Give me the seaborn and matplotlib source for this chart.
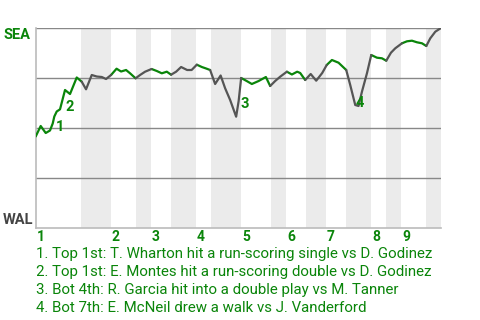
import matplotlib
matplotlib.use("Agg")
import matplotlib.pyplot as plt
import matplotlib.transforms as mtransforms
import seaborn as sns
import pandas as pd
import numpy as np

# ---- data ----
# game progress (plate-appearance units) and SEA win probability
progress = [0, 1.0, 2.0, 2.86, 3.4, 3.72, 4.2, 4.86, 5.86, 6.86, 8.2, 9.2, 10.06, 11.2,
            12.2, 13.2, 14.06, 15.06, 16.16, 17.06, 18.06, 18.86, 19.96, 20.86, 21.86,
            23.16, 24.2, 25.2, 26.2, 27.06, 28.06, 29.06, 30.26, 31.16, 32.2, 33.2, 34.06,
            34.86, 35.86, 36.96, 37.86, 38.86, 40.06, 40.56, 41.06, 42.16, 43.2, 44.56,
            46.0, 46.86, 47.86, 48.86, 50.2, 51.2, 52.26, 52.86, 53.86, 54.96, 56.06,
            57.26, 58.16, 59.2, 60.52, 62.06, 62.86, 63.86, 64.52, 65.2, 66.2, 67.06,
            68.2, 69.2, 70.06, 71.0, 71.86, 73.2, 74.2, 75.2, 76.2, 77.2, 78.06, 78.86,
            79.86, 81.0]
sea_wp = [0.4575, 0.51, 0.475, 0.4875, 0.5225, 0.5575, 0.5825, 0.5935, 0.69, 0.67, 0.7525,
          0.7315, 0.6935, 0.765, 0.7575, 0.755, 0.745, 0.765, 0.7965, 0.7825, 0.79, 0.7735,
          0.7485, 0.765, 0.7815, 0.795, 0.785, 0.7735, 0.7815, 0.7665, 0.7815, 0.805, 0.79,
          0.79, 0.8165, 0.805, 0.7975, 0.79, 0.72, 0.7625, 0.6985, 0.64, 0.5565, 0.635,
          0.75, 0.735, 0.72, 0.735, 0.755, 0.71, 0.735, 0.7565, 0.7815, 0.7675, 0.7815,
          0.775, 0.74, 0.77, 0.7365, 0.775, 0.815, 0.84, 0.8265, 0.79, 0.715, 0.615, 0.61,
          0.6815, 0.7735, 0.865, 0.8515, 0.8485, 0.8365, 0.8765, 0.8985, 0.9235, 0.9335,
          0.9365, 0.9285, 0.9235, 0.91, 0.9485, 0.9815, 1.0]

# half-inning boundaries (start of each half, plus game end)
half_starts = [0, 9, 15, 20, 23, 27, 32, 35, 41, 47, 50, 54, 58, 62, 67, 70, 73, 78, 81]
inning_labels = ["1", "2", "3", "4", "5", "6", "7", "8", "9"]

# key-play markers
marker_labels = ["1", "2", "3", "4"]
marker_x = [3.96, 5.96, 41.0, 64.0]
marker_y = [0.5065, 0.6065, 0.6185, 0.6265]
events = [
    "1. Top 1st: T. Wharton hit a run-scoring single vs D. Godinez",
    "2. Top 1st: E. Montes hit a run-scoring double vs D. Godinez",
    "3. Bot 4th: R. Garcia hit into a double play vs M. Tanner",
    "4. Bot 7th: E. McNeil drew a walk vs J. Vanderford",
]
team_top, team_bottom = "SEA", "WAL"

GREEN = "#0a850a"
GRAY_LINE = "#555555"

sns.set_theme(style="white")
plt.rcParams["font.family"] = ["Roboto", "DejaVu Sans"]

fig = plt.figure(figsize=(4.8, 3.2), dpi=100)
ax = fig.add_axes([35.7 / 480, 92 / 320, (441 - 35.7) / 480, 200 / 320])

# shaded bottom halves
for i in range(1, len(half_starts) - 1, 2):
    ax.axvspan(half_starts[i], half_starts[i + 1], color="#ebebeb", lw=0, zorder=0)

# grid lines
for yv in [0.25, 0.5, 0.75, 1.0]:
    ax.axhline(yv, color="#888888", lw=1.0, zorder=1)

# build colored runs
def half_of(xm):
    idx = np.searchsorted(half_starts, xm, side="right") - 1
    return "top" if idx % 2 == 0 else "bot"

rows = []
run = 0
prev_side = None
for i in range(len(progress) - 1):
    xm = 0.5 * (progress[i] + progress[i + 1])
    side = half_of(xm)
    if side != prev_side:
        run += 1
        rows.append(dict(x=progress[i], y=sea_wp[i], run=run, side=side))
        prev_side = side
    rows.append(dict(x=progress[i + 1], y=sea_wp[i + 1], run=run, side=side))
df = pd.DataFrame(rows)

sns.lineplot(data=df, x="x", y="y", hue="side", units="run", estimator=None,
             sort=False, palette={"top": GREEN, "bot": GRAY_LINE}, legend=False,
             lw=1.6, ax=ax, zorder=3)

for lab, mx, my in zip(marker_labels, marker_x, marker_y):
    ax.text(mx, my, lab, color=GREEN, fontsize=10.5, fontweight="bold",
            ha="left", va="center", zorder=4)

ax.set_xlim(0, half_starts[-1])
ax.set_ylim(0, 1)
ax.set_xticks([])
ax.set_yticks([])
ax.set_xlabel("")
ax.set_ylabel("")
for s in ["top", "right"]:
    ax.spines[s].set_visible(False)
for s in ["left", "bottom"]:
    ax.spines[s].set_color("#bbbbbb")
    ax.spines[s].set_linewidth(1.2)

# inning labels
trans = mtransforms.blended_transform_factory(ax.transData, fig.transFigure)
for k, lab in enumerate(inning_labels):
    ax.text(half_starts[2 * k] + 0.2, 1 - 237 / 320, lab, transform=trans,
            color=GREEN, fontsize=10, fontweight="bold", ha="left", va="center")

fig.text(3 / 480, 1 - 35 / 320, team_top, color=GREEN, fontsize=10.5,
         fontweight="bold", ha="left", va="center")
fig.text(3 / 480, 1 - 220 / 320, team_bottom, color="#444444", fontsize=10.5,
         fontweight="bold", ha="left", va="center")

for j, ev in enumerate(events):
    fig.text(36 / 480, 1 - (254 + 17.9 * j) / 320, ev, color=GREEN, fontsize=10.8,
             ha="left", va="center")

fig.savefig("out.png", dpi=100)
